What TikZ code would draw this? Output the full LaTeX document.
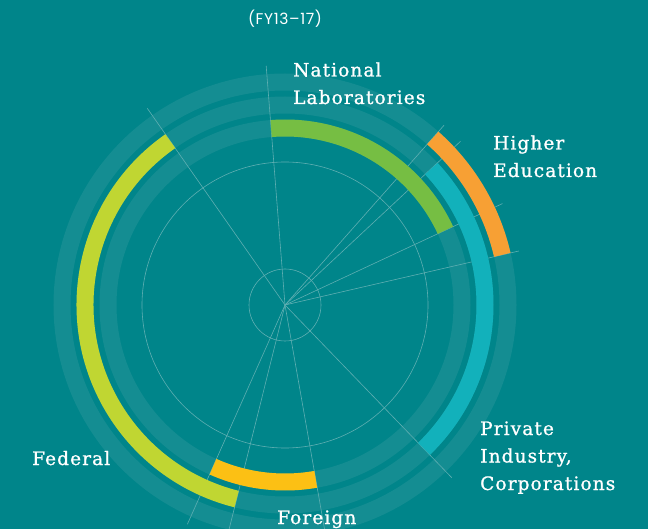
\documentclass[tikz,border=0pt]{standalone}
\usepackage{fontspec}
\newfontfamily\tagfont[LetterSpace=6,FakeBold=1]{DejaVu Serif}
\newfontfamily\notefont[LetterSpace=4]{Poppins}

\definecolor{bgteal}{RGB}{0,133,138}
\definecolor{ringteal}{RGB}{20,141,146}
\definecolor{spokeline}{RGB}{95,175,178}
\definecolor{labgreen}{RGB}{118,190,67}
\definecolor{eduorange}{RGB}{247,160,52}
\definecolor{privteal}{RGB}{18,177,187}
\definecolor{fedlime}{RGB}{192,214,50}
\definecolor{foryellow}{RGB}{252,192,20}

\tikzset{
	band/.style={draw=ringteal, line width=17pt},
	spoke/.style={draw=spokeline, line width=0.6pt},
	bar/.style={line width=17pt},
	tag/.style={text=white, font=\tagfont\fontsize{18.5}{27.5}\selectfont, align=left, anchor=base west, inner sep=0pt},
}

\begin{document}
\begin{tikzpicture}[x=1pt,y=1pt]
		\fill[bgteal] (0,0) rectangle (648,-529);
		\useasboundingbox (0,0) rectangle (648,-529);
		\coordinate (o) at (285,-305);

		\foreach \r in {223,200,177}
			\draw[band] (o) circle[radius=\r pt];
		\foreach \a in {125,94.5,48.5,43,25,13,-46,-80,-104,-114}
			\draw[spoke] (o) -- ++(\a:240pt);
		\draw[spoke] (o) circle[radius=143pt];
		\draw[spoke] (o) circle[radius=36pt];

		\draw[bar,draw=labgreen]	(o) ++(94.5:177pt) arc[start angle=94.5, end angle=25, radius=177pt];
		\draw[bar,draw=eduorange]	(o) ++(48.5:223pt) arc[start angle=48.5, end angle=13, radius=223pt];
		\draw[bar,draw=privteal]	(o) ++(43:200pt) arc[start angle=43, end angle=-46, radius=200pt];
		\draw[bar,draw=foryellow]	(o) ++(-80:177pt) arc[start angle=-80, end angle=-114, radius=177pt];
		\draw[bar,draw=fedlime]		(o) ++(125:200pt) arc[start angle=125, end angle=256, radius=200pt];

		% base sits on the last line
		\node[tag] (lab)	at (293,-104)	{National\\Laboratories};
		\node[tag] (edu)	at (493,-177)	{Higher\\Education};
		\node[tag] (priv)	at (480,-490)	{Private\\Industry,\\Corporations};
		\node[tag] (fed)	at (32,-465)	{Federal};
		\node[tag] (for)	at (277,-524)	{Foreign};
		\node[text=white, font=\notefont\fontsize{15.5}{18}\selectfont, anchor=base, inner sep=0pt] (fy) at (285,-25) {(FY13–17)};
	\end{tikzpicture}
\end{document}
